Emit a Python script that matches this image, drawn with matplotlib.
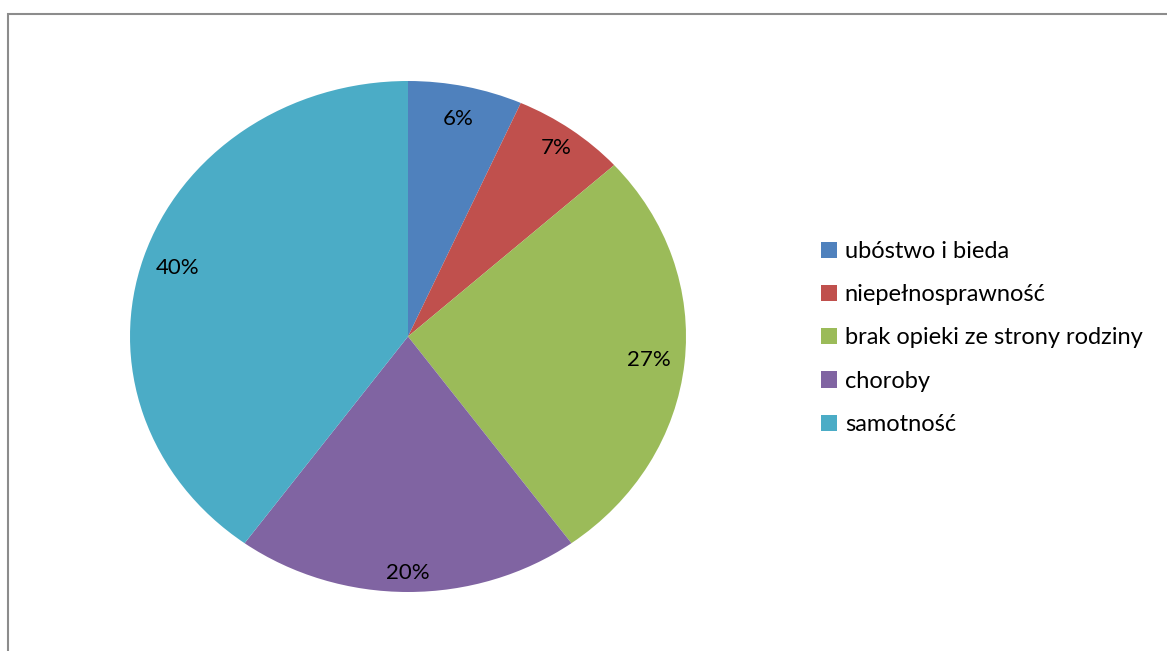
import numpy as np
import matplotlib.pyplot as plt
from matplotlib.patches import Rectangle

plt.rcParams['font.family'] = ['Lato', 'DejaVu Sans']

# Data (slice sizes, labels as printed on the chart)
categories = ['ubóstwo i bieda', 'niepełnosprawność', 'brak opieki ze strony rodziny',
              'choroby', 'samotność']
values = [6.65, 6.65, 26.7, 20.0, 40.0]
pct_labels = ['6%', '7%', '27%', '20%', '40%']
colors = ['#4F81BD', '#C0504D', '#9BBB59', '#8064A2', '#4BACC6']

W, H = 1167, 651
fig = plt.figure(figsize=(W / 100, H / 100), dpi=100)

# grey frame around the chart area (runs off right and bottom edge)
fig.patches.append(Rectangle((8 / W, -0.05), 1.1, 1 - 14 / H + 0.05,
                             transform=fig.transFigure, fill=False,
                             edgecolor='#8c8c8c', linewidth=1.5))

# pie is stretched horizontally like in the original
ax = fig.add_axes([130 / W, (H - 592) / H, 556 / W, 511 / H])
wedges, _ = ax.pie(values, colors=colors, startangle=90, counterclock=False,
                   wedgeprops={'linewidth': 0})
ax.set_aspect('auto')
ax.set_xlim(-1, 1)
ax.set_ylim(-1, 1)

# percentage labels inside the slices, near the edge
label_dist = [0.87, 0.91, 0.87, 0.925, 0.87]
for w, lab, d in zip(wedges, pct_labels, label_dist):
    ang = np.deg2rad((w.theta1 + w.theta2) / 2)
    ax.text(d * np.cos(ang), d * np.sin(ang), lab, ha='center', va='center',
            fontsize=16, color='black')

fig.legend(wedges, categories, loc='center left',
           bbox_to_anchor=(821 / W, (H - 338) / H),
           frameon=False, fontsize=17, handlelength=0.68, handleheight=0.68,
           handletextpad=0.33, labelspacing=0.94, borderpad=0, borderaxespad=0)

fig.savefig('out.png', dpi=100)
